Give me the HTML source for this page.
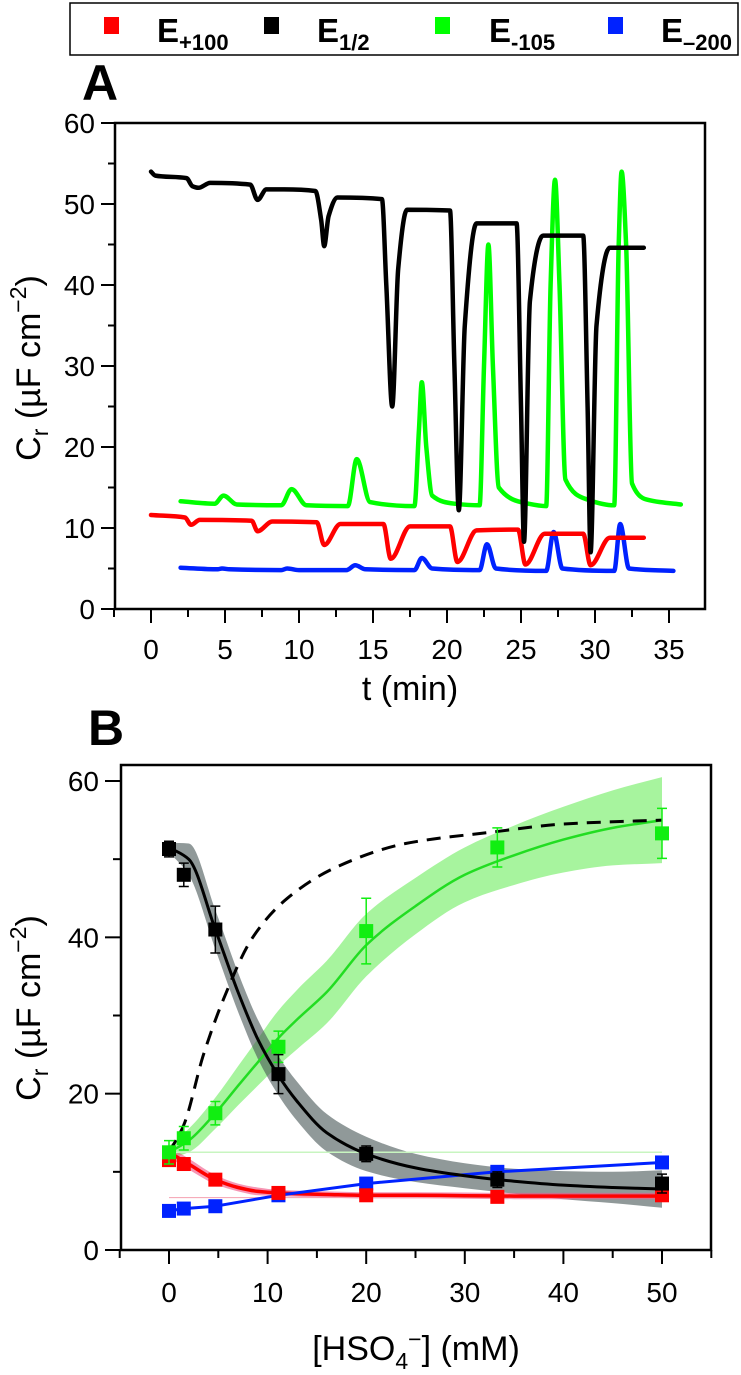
<!DOCTYPE html>
<html><head><meta charset="utf-8"><style>
html,body{margin:0;padding:0;background:#fff;}
svg{display:block;font-family:"Liberation Sans",Arial,sans-serif;}
</style></head><body>
<svg id="fig" width="741" height="1375" viewBox="0 0 741 1375" xmlns="http://www.w3.org/2000/svg">
<g>
<rect x="70" y="3" width="668" height="52" fill="#fff" stroke="#000" stroke-width="1.5"/>
<g><rect x="104" y="17" width="15" height="17" fill="#ff0000"/><text x="157" y="42" font-size="33" font-weight="bold">E<tspan font-size="22" dy="8">+100</tspan></text></g>
<g><rect x="264" y="17" width="15" height="17" fill="#000"/><text x="317" y="42" font-size="33" font-weight="bold">E<tspan font-size="22" dy="8">1/2</tspan></text></g>
<g><rect x="435" y="17" width="15" height="17" fill="#00ff00"/><text x="489" y="42" font-size="33" font-weight="bold">E<tspan font-size="22" dy="8">-105</tspan></text></g>
<g><rect x="608" y="17" width="15" height="17" fill="#0022ff"/><text x="661" y="42" font-size="33" font-weight="bold">E<tspan font-size="22" dy="8">–200</tspan></text></g>
</g>
<text x="82" y="100" font-size="50" font-weight="bold">A</text>
<text x="88" y="745" font-size="50" font-weight="bold">B</text>
<g id="pa"></g>
<g id="pb"></g>
</svg>
<script>
// ---- Panel A data ----
const aXTicks=[0,5,10,15,20,25,30,35];
const aYTicks=[0,10,20,30,40,50,60];
const aBlackT=[0,0.3,2.4,2.8,3.2,4,6.7,7.2,7.8,9,11.1,11.5,11.7,12,12.6,15.6,15.9,16.3,16.7,17.3,20.2,20.5,20.8,21.2,22,24.7,25,25.2,25.6,26.5,29.2,29.5,29.7,30.1,31,33.3];
const aBlackV=[54,53.5,53.2,52.2,52,52.6,52.4,50.5,51.8,51.8,51.6,48,44.8,48.5,50.8,50.6,40,25,42,49.3,49.2,30,12.2,35,47.6,47.6,25,8.3,38,46.1,46.1,25,7,35,44.6,44.6];
const aGreenT=[2,4.3,4.9,5.8,8.8,9.5,10.5,13.3,13.9,14.8,17.8,18.1,18.3,18.6,19,20.5,22.2,22.5,22.8,23.1,23.5,25.5,26.7,27,27.3,27.6,28,29.5,31.3,31.6,31.8,32.1,32.5,33.5,35.8];
const aGreenV=[13.3,13,14,12.9,12.8,14.8,12.8,12.7,18.5,13.2,12.7,22,28,20,14,13,12.8,30,45,30,15,13,12.7,40,53,40,16,13.5,12.8,45,54,45,15.5,13.5,12.9];
const aRedT=[0,2.3,2.7,3.3,6.8,7.2,8.2,11.2,11.7,12.8,15.7,16.2,17.5,20.2,20.7,22,24.8,25.3,26.6,29.2,29.7,31,33.3];
const aRedV=[11.6,11.3,10.4,11,10.9,9.6,10.8,10.7,7.9,10.5,10.5,6.2,10.2,10.2,5.8,9.7,9.8,5.5,9.3,9.3,5.4,8.8,8.8];
const aBlueT=[2,4.5,4.8,5.3,8.8,9.2,10,13.2,13.8,14.5,17.8,18.3,19,22.2,22.7,23.3,26.7,27.2,27.8,31.3,31.7,32.3,35.3];
const aBlueV=[5.1,4.9,5.0,4.9,4.8,5.0,4.8,4.8,5.4,4.9,4.8,6.3,5,4.8,8,5,4.7,9.5,5,4.7,10.5,5,4.7];
// ---- Panel B data ----
const bXTicks=[0,10,20,30,40,50];
const bYTicks=[0,20,40,60];
const bConc=[0,1.5,4.7,11.1,20,33.3,50];
const bBlack=[51.3,48,41,22.5,12.3,9,8.5];
const bBlackErr=[1,1.5,3,2.5,1,1,1.2];
const bGreen=[12.5,14.3,17.5,26,40.8,51.5,53.3];
const bGreenErr=[1.5,1.5,1.5,2,4.2,2.5,3.2];
const bRed=[11.5,11,9,7.3,7,6.8,7];
const bBlue=[5,5.3,5.6,7,8.5,10,11.2];
const fitX=[0,2,4.7,7,9,11,13,16,20,25,30,35,40,45,50];
const fitBlack=[51.5,50,41,33,27,22.5,19,15,12.3,10.5,9.5,8.8,8.3,8,7.8];
const fitBlackBand=[0.6,2,2.5,2.5,2.5,2.5,2.5,2.4,2.2,1.8,1.6,1.6,1.8,2,2.4];
const fitGreen=[12.5,14,17.5,21,24,27,29.5,33,39,44,48,50.5,52.5,54,55];
const fitGreenBand=[0.8,1.5,2,2.5,3,3.5,3.8,4,4,3.6,3.5,3.8,4.2,4.8,5.5];
const fitRed=[12.5,11,9,8,7.5,7.3,7.2,7.1,7,7,6.95,6.9,6.9,6.9,6.9];
const fitRedBand=[0.7,0.7,0.6,0.5,0.5,0.4,0.4,0.4,0.4,0.4,0.4,0.4,0.4,0.4,0.4];
const dashX=[0,1.5,3.5,5.5,8.5,12,17,24,33,40,50];
const dashV=[12.5,16,25,32,40,45,49,52,53.5,54.5,55];

const NS="http://www.w3.org/2000/svg";
function mk(parent,tag,attrs,text){const e=document.createElementNS(NS,tag);for(const k in attrs)e.setAttribute(k,attrs[k]);if(text!==undefined)e.textContent=text;parent.appendChild(e);return e;}
// monotone cubic (Fritsch-Carlson), points sorted by x ascending
function mono(P,cont){const n=P.length;const d=[],m=[];
for(let i=0;i<n-1;i++){d.push((P[i+1][1]-P[i][1])/(P[i+1][0]-P[i][0]));}
m[0]=d[0];m[n-1]=d[n-2];
for(let i=1;i<n-1;i++){if(d[i-1]*d[i]<=0)m[i]=0;else{const h0=P[i][0]-P[i-1][0],h1=P[i+1][0]-P[i][0];const w1=2*h1+h0,w2=h1+2*h0;m[i]=(w1+w2)/(w1/d[i-1]+w2/d[i]);}}
let s=(cont?'L':'M')+P[0][0].toFixed(1)+','+P[0][1].toFixed(1);
for(let i=0;i<n-1;i++){const h=(P[i+1][0]-P[i][0])/3;
s+=`C${(P[i][0]+h).toFixed(1)},${(P[i][1]+m[i]*h).toFixed(1)} ${(P[i+1][0]-h).toFixed(1)},${(P[i+1][1]-m[i+1]*h).toFixed(1)} ${P[i+1][0].toFixed(1)},${P[i+1][1].toFixed(1)}`;}
return s;}
function yTitle(g,cx,cy,name){const yt=mk(g,'text',{transform:`translate(${cx},${cy}) rotate(-90)`,'font-size':34,'text-anchor':'middle'});

yt.innerHTML='C<tspan font-size="23" dy="8">r</tspan><tspan dy="-8"> (µF cm</tspan><tspan font-size="23" dy="-14">−2</tspan><tspan dy="14">)</tspan>';}

// Panel A
(function(){
const g=document.getElementById('pa');
const L=115,R=705,T=123,B=609;
const x=t=>151+t*(669-151)/35, y=v=>609-v*(609-123)/60;
const box=mk(g,'rect',{x:L,y:T,width:R-L,height:B-T,fill:'none',stroke:'#000','stroke-width':2.5});


for(let t=-2.5;t<=35;t+=2.5){const major=Number.isInteger(t/5);mk(g,'line',{x1:x(t),x2:x(t),y1:B,y2:B+(major?14:8),stroke:'#000','stroke-width':2});}
aXTicks.forEach(t=>{const e=mk(g,'text',{x:x(t),y:B+50,'font-size':28,'text-anchor':'middle'},String(t));});
for(let v=0;v<=60;v+=5){const major=v%10===0;mk(g,'line',{x1:L,x2:L-(major?14:7),y1:y(v),y2:y(v),stroke:'#000','stroke-width':2});}
aYTicks.forEach(v=>{const e=mk(g,'text',{x:L-20,y:y(v)+10,'font-size':28,'text-anchor':'end'},String(v));});
const xt=mk(g,'text',{x:410,y:700,'font-size':34,'text-anchor':'middle'},'t (min)');

yTitle(g,40,368,'y-axis-title-a');
const series=[[aBlueT,aBlueV,'#0022ff','series-e-minus200'],[aRedT,aRedV,'#ff0000','series-e-plus100'],[aGreenT,aGreenV,'#00ff00','series-e-minus105'],[aBlackT,aBlackV,'#000','series-e-half']];
series.forEach(([ts,vs,c,n])=>{const P=ts.map((t,i)=>[x(t),y(vs[i])]);const p=mk(g,'path',{d:mono(P),fill:'none',stroke:c,'stroke-width':4.5,'stroke-linejoin':'round','stroke-linecap':'round'});});
})();

// Panel B
(function(){
const g=document.getElementById('pb');
const L=121,R=711,T=765,B=1250;
const x=c=>169+c*(662-169)/50, y=v=>1250-v*(1250-781)/60;
const box=mk(g,'rect',{x:L,y:T,width:R-L,height:B-T,fill:'none',stroke:'#000','stroke-width':2.5});


for(let c=-5;c<=55;c+=5){const major=c%10===0;mk(g,'line',{x1:x(c),x2:x(c),y1:B,y2:B+(major?14:8),stroke:'#000','stroke-width':2});}
bXTicks.forEach(c=>{const e=mk(g,'text',{x:x(c),y:B+52,'font-size':28,'text-anchor':'middle'},String(c));});
for(let v=0;v<=60;v+=10){const major=v%20===0;mk(g,'line',{x1:L,x2:L-(major?16:8),y1:y(v),y2:y(v),stroke:'#000','stroke-width':2});}
bYTicks.forEach(v=>{const e=mk(g,'text',{x:L-22,y:y(v)+10,'font-size':28,'text-anchor':'end'},String(v));});
const xt=mk(g,'text',{x:416,y:1360,'font-size':34,'text-anchor':'middle'});

xt.innerHTML='[HSO<tspan font-size="23" dy="9">4</tspan><tspan font-size="23" dy="-22">−</tspan><tspan dy="13">] (mM)</tspan>';
yTitle(g,40,1008,'y-axis-title-b');
function band(vals,w,fill,name){const up=fitX.map((c,i)=>[x(c),y(vals[i]+w[i])]);const dn=fitX.map((c,i)=>[x(c),y(vals[i]-w[i])]);
// lower edge traced forward then reversed by building path on reversed x with negated direction
const dnR=dn.slice().reverse().map(p=>[-p[0],p[1]]);
const lower=mono(dnR,true).replace(/(-?\d+\.?\d*),(-?\d+\.?\d*)/g,(m,a,b)=>(-parseFloat(a)).toFixed(1)+','+b);
const p=mk(g,'path',{d:mono(up)+lower+'Z',fill:fill,stroke:'none'});}
band(fitGreen,fitGreenBand,'rgba(60,230,40,0.45)','green-confidence-band');
band(fitBlack,fitBlackBand,'rgba(70,85,85,0.6)','black-confidence-band');
band(fitRed,fitRedBand,'rgba(240,80,130,0.6)','red-confidence-band');
const h1=mk(g,'line',{x1:x(0),x2:x(50),y1:y(12.5),y2:y(12.5),stroke:'#c8f5c0','stroke-width':1.5});
const h2=mk(g,'line',{x1:x(0),x2:x(50),y1:y(6.7),y2:y(6.7),stroke:'#f5a0b0','stroke-width':1});
function line(xs,vs,c,w,name,dash,sm){const P=xs.map((c2,i)=>[x(c2),y(vs[i])]);const a={d:sm?mono(P):'M'+P.map(p=>p[0].toFixed(1)+','+p[1].toFixed(1)).join('L'),fill:'none',stroke:c,'stroke-width':w,'stroke-linejoin':'round'};if(dash)a['stroke-dasharray']=dash;const p=mk(g,'path',a);}
line(fitX,fitGreen,'#22dd22',2.5,'green-fit-line',null,true);
line(fitX,fitRed,'#ff0000',3.5,'red-fit-line',null,true);
line(bConc,bBlue,'#0022ff',3,'blue-line',null,false);
line(fitX,fitBlack,'#000',3,'black-fit-line',null,true);
line(dashX,dashV,'#000',3,'dashed-model-line','14,9',true);
function pts(vs,err,c,name){bConc.forEach((cc,i)=>{if(err){const e=mk(g,'path',{d:`M${x(cc)-5},${y(vs[i]+err[i])}h10M${x(cc)},${y(vs[i]+err[i])}V${y(vs[i]-err[i])}M${x(cc)-5},${y(vs[i]-err[i])}h10`,stroke:c,'stroke-width':1.5,fill:'none'});}
const r=mk(g,'rect',{x:x(cc)-7,y:y(vs[i])-7,width:14,height:14,fill:c});});}
pts(bBlue,null,'#0022ff','blue');
pts(bRed,null,'#ff0000','red');
pts(bGreen,bGreenErr,'#11ee11','green');
pts(bBlack,bBlackErr,'#000','black');
})();
</script>
</body></html>
